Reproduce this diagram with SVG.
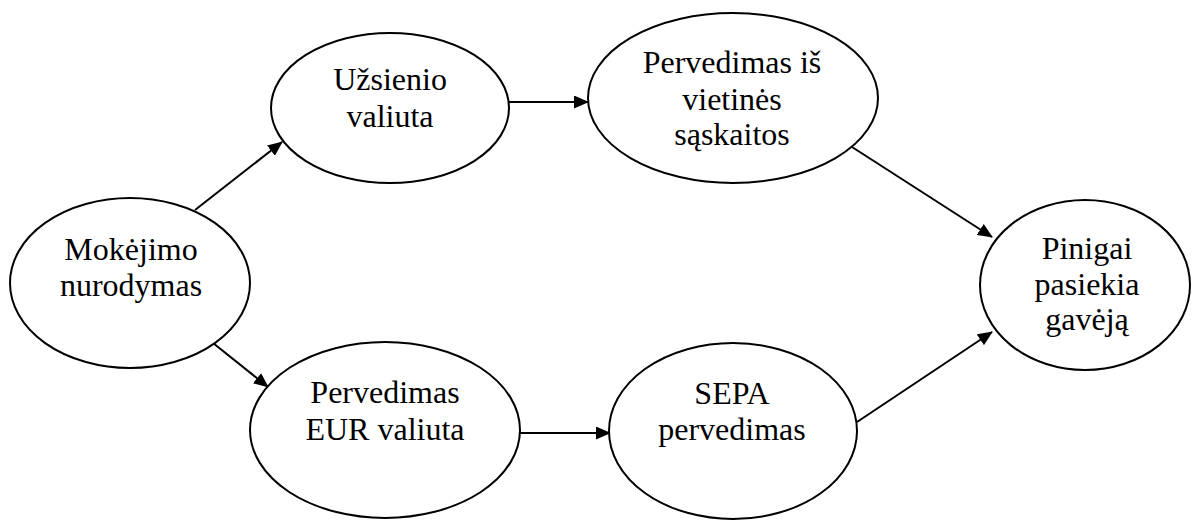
<svg xmlns="http://www.w3.org/2000/svg" width="1193" height="520" viewBox="0 0 1193 520">
<style>
.n{fill:#fff;stroke:#000;stroke-width:2}
.t{font-family:"Liberation Serif","Times New Roman",serif;font-size:32px;fill:#000;text-anchor:middle}
.c{stroke:#000;stroke-width:2;fill:none;marker-end:url(#ah)}
</style>
<defs>
<marker id="ah" markerWidth="15" markerHeight="13" refX="14" refY="6.5" orient="auto" markerUnits="userSpaceOnUse">
<path d="M0,0 L15,6.5 L0,13 Z" fill="#000"/>
</marker>
</defs>
<rect width="1193" height="520" fill="#fff"/>
<g id="connectors">
<line class="c" x1="195" y1="210" x2="282" y2="142"/>
<line class="c" x1="509" y1="102" x2="588" y2="102"/>
<line class="c" x1="852" y1="147" x2="992" y2="237"/>
<line class="c" x1="213" y1="343" x2="268" y2="387"/>
<line class="c" x1="520" y1="433" x2="610" y2="433"/>
<line class="c" x1="857" y1="422" x2="992" y2="332"/>
</g>
<g id="n1"><ellipse class="n" cx="130" cy="283" rx="120" ry="85"/>
<text class="t" x="131" y="260">Mokėjimo</text><text class="t" x="131" y="296">nurodymas</text></g>
<g id="n2"><ellipse class="n" cx="390" cy="108" rx="119" ry="75"/>
<text class="t" x="390" y="90">Užsienio</text><text class="t" x="390" y="127">valiuta</text></g>
<g id="n3"><ellipse class="n" cx="733" cy="98" rx="145" ry="85"/>
<text class="t" x="732" y="73">Pervedimas iš</text><text class="t" x="732" y="110">vietinės</text><text class="t" x="732" y="145">sąskaitos</text></g>
<g id="n4"><ellipse class="n" cx="1085" cy="285" rx="105" ry="85"/>
<text class="t" x="1087" y="259">Pinigai</text><text class="t" x="1087" y="295">pasiekia</text><text class="t" x="1087" y="330">gavėją</text></g>
<g id="n5"><ellipse class="n" cx="385" cy="430" rx="135" ry="88"/>
<text class="t" x="385" y="403">Pervedimas</text><text class="t" x="385" y="440">EUR valiuta</text></g>
<g id="n6"><ellipse class="n" cx="733" cy="431" rx="124" ry="88"/>
<text class="t" x="732" y="404">SEPA</text><text class="t" x="732" y="440">pervedimas</text></g>
</svg>
